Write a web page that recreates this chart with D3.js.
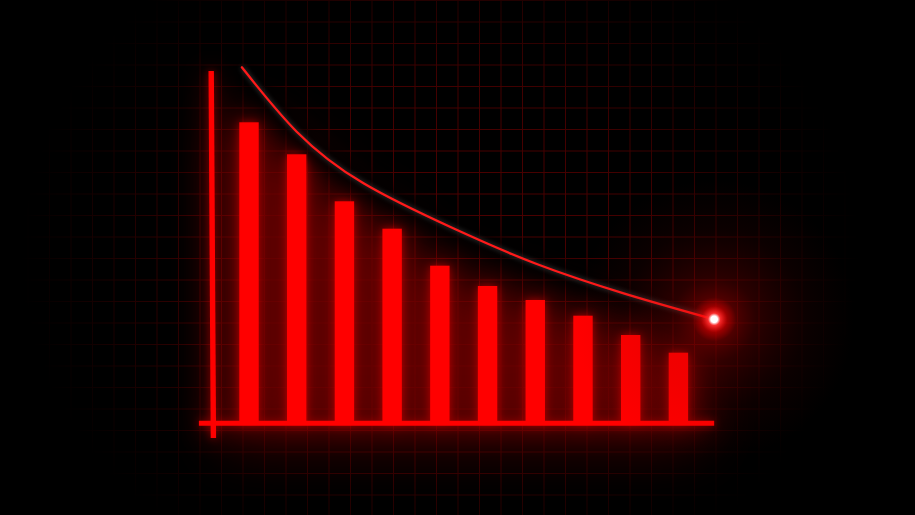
<!DOCTYPE html>
<html>
<head>
<meta charset="utf-8">
<script src="https://cdn.jsdelivr.net/npm/d3@7"></script>
<style>
  html, body { margin: 0; padding: 0; background: #000; }
  svg { display: block; }
</style>
</head>
<body>
<svg id="chart" width="915" height="515"></svg>
<script>
// ---- data ----
const categories = ["1", "2", "3", "4", "5", "6", "7", "8", "9", "10"];
const barValues = [298.7, 266.7, 219.7, 192.3, 155.3, 135, 121, 105.3, 86, 68.3];
// trend curve points: [category position, value]
const curveX = [-0.15, 1.0, 2.4, 4.28, 6.03, 7.92, 9.75];
const curveY = [353.7, 289.3, 237.7, 192.7, 157, 126.7, 101.7];
const xAxisExtent = [-1.05, 9.75];
const yAxisExtent = [-17, 350];

// ---- setup ----
const W = 915, H = 515;
const svg = d3.select("#chart");
const defs = svg.append("defs");

const x = d3.scaleLinear().domain([0, categories.length - 1]).range([249, 678.4]);
const y = d3.scaleLinear().domain([0, 350]).range([421, 71]);
const barW = 19.4;

svg.append("rect").attr("width", W).attr("height", H).attr("fill", "#000");

// grid mask (vignette)
const rg = defs.append("radialGradient").attr("id", "vig")
  .attr("gradientUnits", "userSpaceOnUse")
  .attr("cx", 440).attr("cy", 255).attr("r", 420)
  .attr("gradientTransform", "translate(440,255) scale(1,0.85) translate(-440,-255)");
rg.append("stop").attr("offset", "0").attr("stop-color", "#fff").attr("stop-opacity", 1);
rg.append("stop").attr("offset", "0.5").attr("stop-color", "#fff").attr("stop-opacity", 0.8);
rg.append("stop").attr("offset", "0.82").attr("stop-color", "#fff").attr("stop-opacity", 0.28);
rg.append("stop").attr("offset", "1").attr("stop-color", "#fff").attr("stop-opacity", 0);
defs.append("mask").attr("id", "gridMask")
  .append("rect").attr("width", W).attr("height", H).attr("fill", "url(#vig)");

// filters
const blurF = (id, sd) => defs.append("filter").attr("id", id)
  .attr("x", "-50%").attr("y", "-50%").attr("width", "200%").attr("height", "200%")
  .append("feGaussianBlur").attr("stdDeviation", sd);
blurF("b4", 4); blurF("b8", 8); blurF("b14", 14); blurF("b30", 30); blurF("b3", 2.5);

// ---- big ambient red glow behind chart ----
const amb = svg.append("g").attr("filter", "url(#b30)").attr("opacity", 0.55);
amb.selectAll("rect").data(barValues).join("rect")
  .attr("x", (d, i) => x(i) - barW / 2 - 6)
  .attr("y", d => y(d))
  .attr("width", barW + 12)
  .attr("height", d => y(0) - y(d) + 20)
  .attr("fill", "#c00000");

// ---- grid ----
const grid = svg.append("g").attr("mask", "url(#gridMask)")
  .attr("stroke", "#520000").attr("stroke-width", 1);
const gs = 21.5;
const vx = d3.range(200 - gs * 10, W + gs, gs);
const hy = d3.range(65 - gs * 4, H + gs, gs);
grid.selectAll("line.v").data(vx).join("line").attr("class", "v")
  .attr("x1", d => d).attr("x2", d => d).attr("y1", 0).attr("y2", H);
grid.selectAll("line.h").data(hy).join("line").attr("class", "h")
  .attr("y1", d => d).attr("y2", d => d).attr("x1", 0).attr("x2", W);

// ---- glow copies of bars & axes ----
function drawMarks(g) {
  g.selectAll("rect.bar").data(barValues).join("rect").attr("class", "bar")
    .attr("x", (d, i) => x(i) - barW / 2)
    .attr("y", d => y(d))
    .attr("width", barW)
    .attr("height", d => y(0) - y(d) + 2)
    .attr("fill", "#ff0000");
  g.append("line")
    .attr("x1", x(xAxisExtent[0])).attr("x2", x(xAxisExtent[1]))
    .attr("y1", y(0) + 2.2).attr("y2", y(0) + 2.2)
    .attr("stroke", "#ff0000").attr("stroke-width", 5);
  g.append("line")
    .attr("x1", 211.2).attr("x2", 213.4)
    .attr("y1", y(yAxisExtent[1])).attr("y2", y(yAxisExtent[0]))
    .attr("stroke", "#ff0000").attr("stroke-width", 5.4);
}
const glow2 = svg.append("g").attr("filter", "url(#b14)").attr("opacity", 0.45);
drawMarks(glow2);
const glow1 = svg.append("g").attr("filter", "url(#b4)").attr("opacity", 0.5);
drawMarks(glow1);

// ---- trend curve ----
const pts = curveX.map((v, i) => [v, curveY[i]]);
const line = d3.line().x(d => x(d[0])).y(d => y(d[1])).curve(d3.curveNatural);
svg.append("path").attr("d", line(pts)).attr("fill", "none")
  .attr("stroke", "#000").attr("stroke-width", 18).attr("filter", "url(#b8)").attr("opacity", 0.9);
svg.append("path").attr("d", line(pts)).attr("fill", "none")
  .attr("stroke", "#ffffff").attr("stroke-width", 3).attr("filter", "url(#b3)").attr("opacity", 0.22);

// crisp marks
const crisp = svg.append("g");
drawMarks(crisp);

svg.append("path").attr("d", line(pts)).attr("fill", "none")
  .attr("stroke", "#ff1a1a").attr("stroke-width", 2.3).attr("stroke-linecap", "round");

// ---- glowing end point ----
const last = pts[pts.length - 1];
const cx = x(last[0]), cy = y(last[1]);
const wide = defs.append("radialGradient").attr("id", "wideGlow");
wide.append("stop").attr("offset", "0").attr("stop-color", "#ff0000").attr("stop-opacity", 0.5);
wide.append("stop").attr("offset", "0.3").attr("stop-color", "#c00000").attr("stop-opacity", 0.22);
wide.append("stop").attr("offset", "0.65").attr("stop-color", "#900000").attr("stop-opacity", 0.08);
wide.append("stop").attr("offset", "1").attr("stop-color", "#800000").attr("stop-opacity", 0);
svg.append("circle").attr("cx", cx).attr("cy", cy).attr("r", 140).attr("fill", "url(#wideGlow)");
const dotG = defs.append("radialGradient").attr("id", "dotGlow");
dotG.append("stop").attr("offset", "0").attr("stop-color", "#ffffff").attr("stop-opacity", 1);
dotG.append("stop").attr("offset", "0.15").attr("stop-color", "#ffffff").attr("stop-opacity", 1);
dotG.append("stop").attr("offset", "0.28").attr("stop-color", "#ff3030").attr("stop-opacity", 0.95);
dotG.append("stop").attr("offset", "0.6").attr("stop-color", "#ff0000").attr("stop-opacity", 0.35);
dotG.append("stop").attr("offset", "1").attr("stop-color", "#ff0000").attr("stop-opacity", 0);
svg.append("circle").attr("cx", cx).attr("cy", cy).attr("r", 22).attr("fill", "url(#dotGlow)");
</script>
</body>
</html>
